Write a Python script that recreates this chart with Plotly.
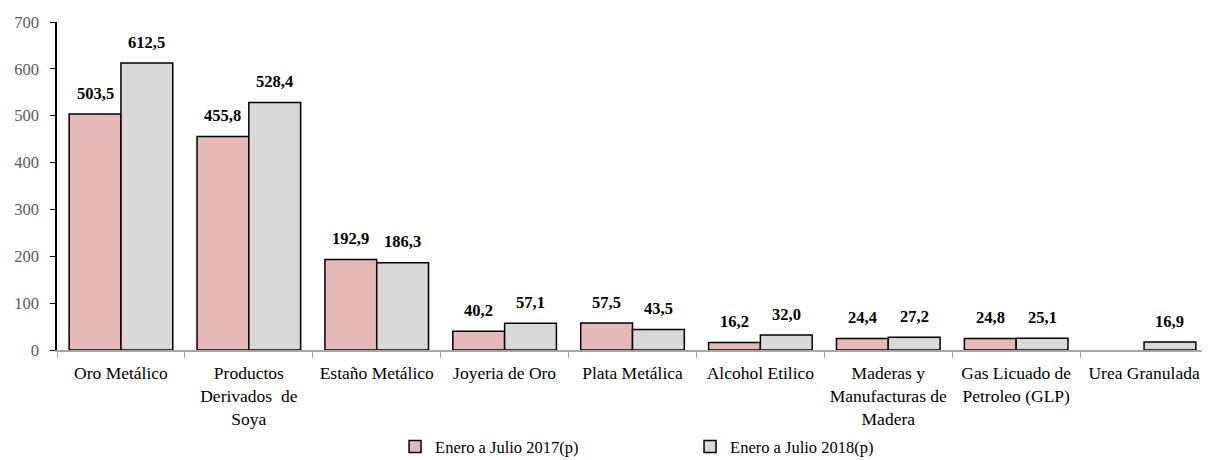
import plotly.graph_objects as go

categories = ["Oro Metálico", "Productos<br>Derivados  de<br>Soya", "Estaño Metálico",
              "Joyeria de Oro", "Plata Metálica", "Alcohol Etilico",
              "Maderas y<br>Manufacturas de<br>Madera", "Gas Licuado de<br>Petroleo (GLP)",
              "Urea Granulada"]
serie_2017 = [503.5, 455.8, 192.9, 40.2, 57.5, 16.2, 24.4, 24.8, None]
serie_2018 = [612.5, 528.4, 186.3, 57.1, 43.5, 32.0, 27.2, 25.1, 16.9]
y_ticks = [0, 100, 200, 300, 400, 500, 600, 700]

def fmt(v):
    return "" if v is None else f"{v:.1f}".replace(".", ",")

FF = "Liberation Serif"
W, H = 1202, 452
ML, MR, MT, MB = 49, 2, 14, 110
BARGAP = 0.19
plot_w = W - ML - MR
cat_px = plot_w / len(categories)
bar_px = cat_px * (1 - BARGAP) / 2

fig = go.Figure()
fig.add_trace(go.Bar(
    x=categories, y=serie_2017, name="Enero a Julio 2017(p)",
    marker=dict(color="#E6B8B7", line=dict(color="black", width=1.5)),
))
fig.add_trace(go.Bar(
    x=categories, y=serie_2018, name="Enero a Julio 2018(p)",
    marker=dict(color="#D9D9D9", line=dict(color="black", width=1.5)),
))

# data labels above each bar
for series, side in ((serie_2017, -1), (serie_2018, 1)):
    for cat, v in zip(categories, series):
        if v is None:
            continue
        fig.add_annotation(
            x=cat, y=v, xref="x", yref="y", text=fmt(v), showarrow=False,
            xshift=side * bar_px / 2, yshift=21, yanchor="middle",
            font=dict(family=FF, size=16.5, color="black", weight="bold"),
        )

fig.update_layout(
    width=W, height=H,
    margin=dict(l=ML, r=MR, t=MT, b=MB, autoexpand=False),
    paper_bgcolor="white", plot_bgcolor="white",
    barmode="group", bargap=BARGAP, bargroupgap=0,
    font=dict(family=FF, size=16, color="black"),
    showlegend=True,
    legend=dict(orientation="h", x=0.55, xanchor="center", y=-0.295, yanchor="middle",
                font=dict(family=FF, size=16.5, color="black"), itemwidth=30,
                entrywidth=250),
)
fig.update_xaxes(
    showline=True, linecolor="#A6A6A6", linewidth=2,
    ticks="outside", tickson="boundaries", ticklen=6, tickcolor="#A6A6A6",
    tickfont=dict(family=FF, size=17.5, color="black"), tickangle=0,
    ticklabelstandoff=6,
)
fig.update_yaxes(
    range=[0, 700], tickvals=y_ticks, showgrid=False, zeroline=False,
    showline=True, linecolor="black", linewidth=1.5,
    ticks="outside", ticklen=5, tickcolor="black",
    tickfont=dict(family=FF, size=16.5, color="#595959"),
    ticklabelstandoff=8,
)

fig.write_html("out.html")
